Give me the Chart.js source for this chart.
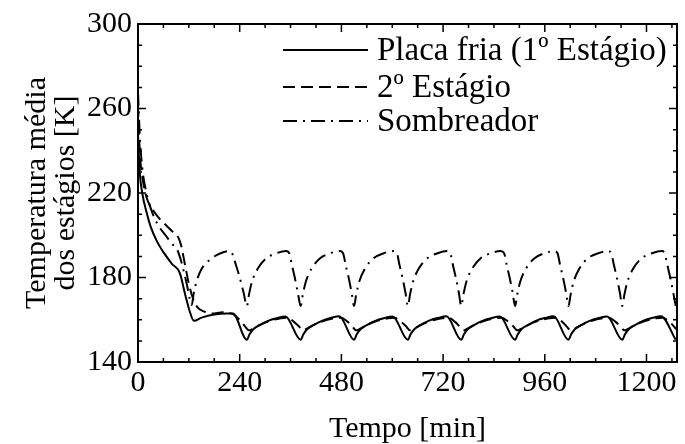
<!DOCTYPE html>
<html>
<head>
<meta charset="utf-8">
<script src="https://cdn.jsdelivr.net/npm/chart.js@4/dist/chart.umd.min.js"></script>
<style>
  body { margin: 0; background: #fff; }
</style>
</head>
<body>
<canvas id="plot" width="685" height="444"></canvas>
<script>
// tempo [min], temperatura [K]
var placaFria = [
  [0,248],[4,230],[10,220],[20,211],[30,204],[45,197],[60,192],[80,186.5],[99,182],[110,173],[122,164],[132,159.5],[150,161],[180,162.5],[210,163],[224,163],
  [257,150.5],[263,153],[272,155.5],[287,157.5],[307,159.5],[327,160.7],[348,161.5],
  [384,150.5],[390,153],[399,155.5],[414,157.5],[434,159.5],[454,160.8],[475,161.7],
  [510,150.5],[516,153],[525,155.5],[540,157.5],[560,159.5],[580,160.7],[601,161.5],
  [637,150.5],[643,153],[652,155.5],[667,157.6],[687,159.6],[707,160.8],[728,161.6],
  [763,150.5],[769,153],[778,155.5],[793,157.5],[813,159.5],[833,160.7],[854,161.5],
  [890,150.5],[896,153],[905,155.5],[920,157.5],[940,159.6],[960,160.8],[981,161.6],
  [1016,150.5],[1022,153],[1031,155.5],[1046,157.5],[1066,159.5],[1086,160.7],[1107,161.5],
  [1143,150.5],[1149,153],[1158,155.5],[1173,157.5],[1193,159.6],[1213,160.8],[1234,161.7],
  [1269,150.5]
];

var segundoEstagio = [
  [0,262],[4,240],[10,228],[20,218],[35,212],[50,208],[65,205],[80,202],[95,199],[102,195],[110,187],[120,177],[130,170],[140,166],[155,164],[175,163],[200,163.5],[225,162.5],[242,159.5],[252,157],
  [262,155],[269,155.5],[287,157.5],[312,159.5],[337,160.7],[352,161],[368,159],[379,157],
  [389,155],[396,155.5],[414,157.5],[439,159.5],[464,160.7],[479,161],[495,159],[505,157],
  [515,155],[522,155.5],[540,157.5],[565,159.5],[590,160.7],[605,161],[621,159],[632,157],
  [642,155],[649,155.5],[667,157.5],[692,159.5],[717,160.7],[732,161],[748,159],[758,157],
  [768,155],[775,155.5],[793,157.5],[818,159.5],[843,160.7],[858,161],[874,159],[885,157],
  [895,155],[902,155.5],[920,157.5],[945,159.5],[970,160.7],[985,161],[1001,159],[1011,157],
  [1021,155],[1028,155.5],[1046,157.5],[1071,159.5],[1096,160.7],[1111,161],[1127,159],[1138,157],
  [1148,155],[1155,155.5],[1173,157.5],[1198,159.5],[1223,160.7],[1238,161],[1254,159],[1264,157],[1270,155.5]
];

var sombreador = [
  [0,268],[4,248],[10,232],[20,220],[35,210],[50,204],[65,200],[80,196],[93,193],[100,189],[108,183],[116,176],[122,170],[127,167],
  [131,172],[138,178],[150,184],[170,188.5],[195,191.5],[215,192.5],[222,191.5],[231,186],[240,180],[249,173],
  [257,166.5],[262,172],[269,178],[282,184],[302,189],[327,191.5],[350,192.5],[357,191.5],[363,186],[370,180],[377,173],
  [384,166.5],[389,172],[396,178],[409,184],[429,189],[454,191.5],[477,192.5],[484,191.5],[490,186],[497,180],[504,173],
  [510,166.5],[515,172],[522,178],[535,184],[555,189],[580,191.5],[603,192.5],[611,191.5],[617,186],[624,180],[631,173],
  [637,166.5],[642,172],[649,178],[662,184],[682,189],[707,191.5],[730,192.5],[737,191.5],[743,186],[750,180],[757,173],
  [763,166.5],[768,172],[775,178],[788,184],[808,189],[833,191.5],[856,192.5],[864,191.5],[870,186],[877,180],[884,173],
  [890,166.5],[895,172],[902,178],[915,184],[935,189],[960,191.5],[983,192.5],[990,191.5],[996,186],[1003,180],[1010,173],
  [1016,166.5],[1021,172],[1028,178],[1041,184],[1061,189],[1086,191.5],[1109,192.5],[1117,191.5],[1123,186],[1130,180],[1137,173],
  [1143,166.5],[1148,172],[1155,178],[1168,184],[1188,189],[1213,191.5],[1236,192.5],[1243,191.5],[1249,186],[1256,180],[1263,173],
  [1269,166.5]
];

var seriesNames = ["Placa fria (1º Estágio)", "2º Estágio", "Sombreador"];
var xTicks = [0, 240, 480, 720, 960, 1200];
var yTicks = [140, 180, 220, 260, 300];

var serif = "'Liberation Serif', 'DejaVu Serif', serif";

function pts(arr) {
  return arr.map(function (p) { return {x: p[0], y: p[1]}; });
}

// moldura com marcas internas e legenda dentro do grafico
var frame = {
  id: 'frame',
  afterDatasetsDraw: function (chart) {
    var ctx = chart.ctx, a = chart.chartArea;
    var xs = chart.scales.x, ys = chart.scales.y;
    ctx.save();
    ctx.strokeStyle = '#000';
    ctx.lineWidth = 2;
    ctx.strokeRect(a.left, a.top, a.right - a.left, a.bottom - a.top);
    ctx.lineWidth = 1.5;
    ctx.beginPath();
    for (var v = xs.min; v <= xs.max; v += 60) {
      var px = xs.getPixelForValue(v), len = v % 240 ? 4 : 8;
      ctx.moveTo(px, a.bottom); ctx.lineTo(px, a.bottom - len);
      ctx.moveTo(px, a.top); ctx.lineTo(px, a.top + len);
    }
    for (var w = ys.min; w <= ys.max; w += 10) {
      var py = ys.getPixelForValue(w), l2 = (w - 140) % 40 ? 4 : 8;
      ctx.moveTo(a.left, py); ctx.lineTo(a.left + l2, py);
      ctx.moveTo(a.right, py); ctx.lineTo(a.right - l2, py);
    }
    ctx.stroke();

    var rows = [50, 87, 121];
    ctx.font = "33px " + serif;
    ctx.fillStyle = '#000';
    ctx.textBaseline = 'middle';
    chart.data.datasets.forEach(function (ds, i) {
      ctx.lineWidth = 2;
      ctx.setLineDash(ds.borderDash || []);
      ctx.beginPath();
      ctx.moveTo(283, rows[i]);
      ctx.lineTo(368, rows[i]);
      ctx.stroke();
      ctx.setLineDash([]);
      ctx.fillText(ds.label, 377, rows[i] + 1);
    });
    ctx.restore();
  }
};

var ctx = document.getElementById("plot").getContext("2d");
var chart = new Chart(ctx, {
  type: 'line',
  data: {
    datasets: [
      {label: seriesNames[0], data: pts(placaFria), borderColor: '#000', borderWidth: 2, borderDash: []},
      {label: seriesNames[1], data: pts(segundoEstagio), borderColor: '#000', borderWidth: 2, borderDash: [12, 6]},
      {label: seriesNames[2], data: pts(sombreador), borderColor: '#000', borderWidth: 2, borderDash: [14, 6, 2, 6]}
    ]
  },
  options: {
    responsive: false,
    animation: false,
    layout: {padding: {top: 24, right: 8, left: 0, bottom: 0}},
    elements: {
      point: {radius: 0},
      line: {cubicInterpolationMode: 'monotone', fill: false}
    },
    plugins: {legend: {display: false}, tooltip: {enabled: false}},
    scales: {
      x: {
        type: 'linear', min: 0, max: 1272,
        afterBuildTicks: function (s) { s.ticks = xTicks.map(function (v) { return {value: v}; }); },
        ticks: {
          font: {family: serif, size: 30}, color: '#000', padding: 3, maxRotation: 0, autoSkip: false,
          callback: function (v) { return String(v); }
        },
        grid: {display: false, drawTicks: false},
        border: {display: false},
        title: {display: true, text: 'Tempo [min]', font: {family: serif, size: 30, lineHeight: 1}, color: '#000', padding: {top: 0, bottom: 0}},
        afterFit: function (s) { s.height = 82; }
      },
      y: {
        min: 140, max: 300,
        afterBuildTicks: function (s) { s.ticks = yTicks.map(function (v) { return {value: v}; }); },
        ticks: {font: {family: serif, size: 30}, color: '#000', padding: 6},
        grid: {display: false, drawTicks: false},
        border: {display: false},
        title: {display: true, text: ['Temperatura média', 'dos estágios [K]'], font: {family: serif, size: 30, lineHeight: 0.95}, color: '#000', padding: {top: 23, bottom: 0}},
        afterFit: function (s) { s.width = 138; }
      }
    }
  },
  plugins: [frame]
});
</script>
</body>
</html>
